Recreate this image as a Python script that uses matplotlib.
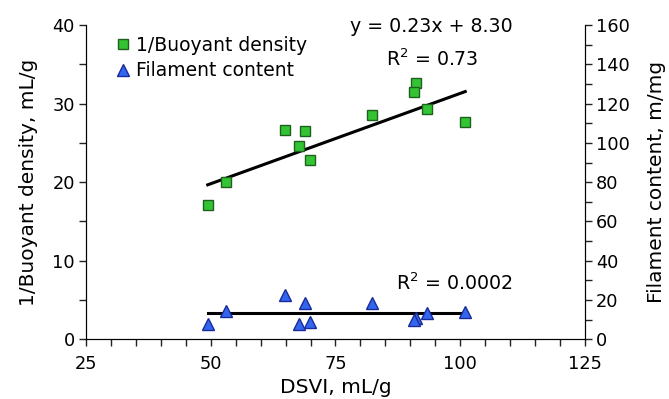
import numpy as np
from matplotlib import pyplot as plt
from matplotlib.ticker import MultipleLocator

# DSVI, mL/g
dsvi = [49.4, 53.0, 64.8, 68.8, 67.6, 69.9, 82.4, 91.1, 90.7, 93.4, 101.0]
# 1/Buoyant density, mL/g
inv_density = [17.1, 20.0, 26.7, 26.5, 24.6, 22.8, 28.5, 32.6, 31.5, 29.3, 27.6]
# Filament content, m/mg
filament = [7.8, 14.6, 22.6, 18.3, 7.6, 9.0, 18.6, 10.8, 9.8, 13.6, 14.1]

slope, intercept = 0.23, 8.30

plt.rcParams['font.family'] = 'DejaVu Sans'
plt.rcParams['font.size'] = 12

fig = plt.figure(figsize=(6.69, 3.99), dpi=100)
ax = fig.add_axes([0.1285, 0.1496, 0.8744 - 0.1285, 0.9373 - 0.1496])
ax2 = ax.twinx()

green = '#33c433'
green_edge = '#1f5f1f'
blue = '#3366ee'
blue_edge = '#1a2a99'

# trend lines
x_fit = np.array([min(dsvi), max(dsvi)])
ax.plot(x_fit, slope * x_fit + intercept, color='black', lw=2.2, zorder=2)
f_level = np.mean(filament)
ax2.plot(x_fit, [f_level, f_level], color='black', lw=2.2, zorder=2)

sq, = ax.plot(dsvi, inv_density, 's', ms=7.8, mfc=green, mec=green_edge,
              mew=1.0, zorder=3, label='1/Buoyant density')
tri, = ax2.plot(dsvi, filament, '^', ms=8.8, mfc=blue, mec=blue_edge,
                mew=1.0, zorder=3, label='Filament content')

ax.set_xlim(25, 125)
ax.set_ylim(0, 40)
ax2.set_ylim(0, 160)
ax.xaxis.set_major_locator(MultipleLocator(25))
ax.xaxis.set_minor_locator(MultipleLocator(5))
ax.yaxis.set_major_locator(MultipleLocator(10))
ax.yaxis.set_minor_locator(MultipleLocator(5))
ax2.yaxis.set_major_locator(MultipleLocator(20))
ax2.yaxis.set_minor_locator(MultipleLocator(10))

for a in (ax, ax2):
    a.spines['top'].set_visible(False)
    a.tick_params(which='both', direction='out', length=5, width=1,
                  color='#222222', labelsize=12.8, pad=3)
ax.tick_params(axis='x', pad=6)

ax.set_xlabel('DSVI, mL/g', fontsize=14.5, labelpad=4)
ax.set_ylabel('1/Buoyant density, mL/g', fontsize=14.5, labelpad=10)
ax2.set_ylabel('Filament content, m/mg', fontsize=14.5, labelpad=12)

ax.text(0.692, 0.994, f'y = {slope:.2f}x + {intercept:.2f}',
        transform=ax.transAxes, ha='center', va='center', fontsize=13.7)
ax.text(0.694, 0.891, '$\\mathregular{R^2}$ = 0.73',
        transform=ax.transAxes, ha='center', va='center', fontsize=13.7)
ax.text(0.738, 0.179, '$\\mathregular{R^2}$ = 0.0002',
        transform=ax.transAxes, ha='center', va='center', fontsize=13.7)

ax.legend(handles=[sq, tri], loc='upper left', bbox_to_anchor=(0.045, 0.99),
          frameon=False, handletextpad=0.25, handlelength=0.8,
          labelspacing=0.35, borderaxespad=0, fontsize=13.5)

fig.savefig('out.png', dpi=100)
